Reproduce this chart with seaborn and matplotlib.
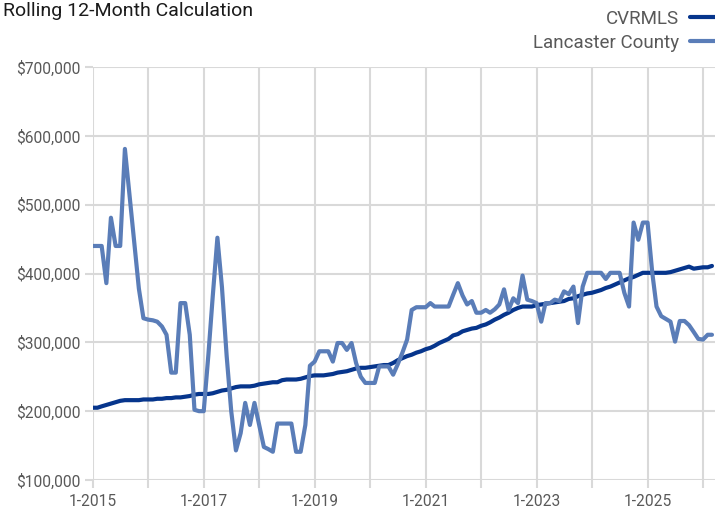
import numpy as np
import pandas as pd
import matplotlib
matplotlib.use("Agg")
import matplotlib.pyplot as plt
from matplotlib.ticker import FuncFormatter
import seaborn as sns

# monthly values, 1-2015 .. 3-2026 (thousands of dollars)
months = pd.date_range("2015-01-01", "2026-03-01", freq="MS")

cvrmls_k = [
    205, 205, 207, 209, 211, 213, 215, 216, 216, 216, 216, 217,   # 2015
    217, 217, 218, 218, 219, 219, 220, 220, 221, 222, 224, 225,   # 2016
    225, 225, 226, 228, 230, 231, 233, 235, 236, 236, 236, 237,   # 2017
    239, 240, 241, 242, 242, 245, 246, 246, 246, 247, 249, 251,   # 2018
    252, 252, 252, 253, 254, 256, 257, 258, 260, 262, 263, 263,   # 2019
    264, 265, 266, 267, 267, 270, 274, 277, 280, 282, 285, 287,   # 2020
    290, 292, 295, 299, 302, 305, 310, 312, 316, 318, 320, 321,   # 2021
    324, 326, 329, 333, 336, 340, 343, 347, 350, 352, 352, 352,   # 2022
    354, 355, 356, 357, 358, 359, 360, 363, 364, 367, 369, 371,   # 2023
    372, 374, 376, 379, 381, 384, 387, 390, 393, 395, 398, 401,   # 2024
    401, 401, 401, 401, 401, 402, 404, 406, 408, 410, 407, 408,   # 2025
    409, 409, 411,                                                # 2026
]

lancaster_k = [
    440, 440, 440, 386, 481, 440, 440, 581, 513, 446, 378, 335,   # 2015
    333, 332, 330, 323, 311, 256, 256, 357, 357, 311, 202, 200,   # 2016
    200, 283, 366, 452, 380, 280, 200, 143, 168, 212, 180, 212,   # 2017
    180, 148, 145, 141, 182, 182, 182, 182, 141, 141, 180, 266,   # 2018
    272, 287, 287, 287, 272, 299, 299, 289, 299, 270, 250, 241,   # 2019
    241, 241, 265, 265, 265, 253, 268, 285, 304, 347, 351, 351,   # 2020
    351, 357, 352, 352, 352, 352, 369, 386, 368, 355, 360, 343,   # 2021
    343, 347, 343, 348, 355, 377, 347, 364, 357, 397, 362, 360,   # 2022
    357, 330, 357, 357, 362, 360, 374, 370, 381, 328, 381, 401,   # 2023
    401, 401, 401, 392, 401, 401, 401, 372, 352, 474, 449, 474,   # 2024
    474, 401, 352, 338, 334, 330, 301, 331, 331, 325, 315, 305,   # 2025
    304, 311, 311,                                                # 2026
]

series_names = ["CVRMLS", "Lancaster County"]
series_colors = ["#06358c", "#5a7db8"]
y_ticks = [100000, 200000, 300000, 400000, 500000, 600000, 700000]
tick_years = list(range(2015, 2027))
label_years = [2015, 2017, 2019, 2021, 2023, 2025]

df = pd.concat([
    pd.DataFrame({"date": months, "value": np.array(cvrmls_k) * 1000, "series": series_names[0]}),
    pd.DataFrame({"date": months, "value": np.array(lancaster_k) * 1000, "series": series_names[1]}),
])

sns.set_theme(style="white")
plt.rcParams["font.family"] = ["Roboto", "DejaVu Sans"]

fig = plt.figure(figsize=(7.15, 5.15), dpi=100)
ax = fig.add_axes([92.7 / 715, 1 - 480 / 515, 1 - 92.7 / 715, (480 - 67) / 515])

sns.lineplot(data=df, x="date", y="value", hue="series", hue_order=series_names,
             palette=series_colors, linewidth=3.0, ax=ax)

grid_c = "#d9d9d9"
text_c = "#595959"

ax.set_ylim(100000, 700000)
ax.set_xlim(pd.Timestamp("2015-01-01"), pd.Timestamp("2026-03-21"))
ax.set_yticks(y_ticks)
ax.yaxis.set_major_formatter(FuncFormatter(lambda v, p: f"${v:,.0f}"))

xt = [pd.Timestamp(f"{y}-01-01") for y in tick_years]
ax.set_xticks(xt)
ax.set_xticklabels([f"1-{y}" if y in label_years else "" for y in tick_years])

ax.grid(True, color=grid_c, linewidth=1.5)
ax.set_axisbelow(True)
for s in ax.spines.values():
    s.set_visible(False)
ax.tick_params(axis="both", which="major", length=6, width=1.5, color=grid_c,
               labelcolor=text_c, labelsize=11.2, left=True, bottom=True)
ax.tick_params(axis="x", pad=4)
ax.tick_params(axis="y", pad=3)
ax.set_xlabel("")
ax.set_ylabel("")

handles, labels = ax.get_legend_handles_labels()
ax.legend(handles, labels, loc="upper right", bbox_to_anchor=(728 / 715, 1 - 10 / 515),
          bbox_transform=fig.transFigure, frameon=False, markerfirst=False,
          fontsize=13.5, labelcolor=text_c, handlelength=2.0, handletextpad=0.6,
          labelspacing=0.3, borderpad=0, borderaxespad=0)

fig.text(3 / 715, 1 - 2 / 515, "Rolling 12-Month Calculation", ha="left", va="top",
         fontsize=14, color="#1a1a1a")

fig.savefig("out.png", dpi=100)
